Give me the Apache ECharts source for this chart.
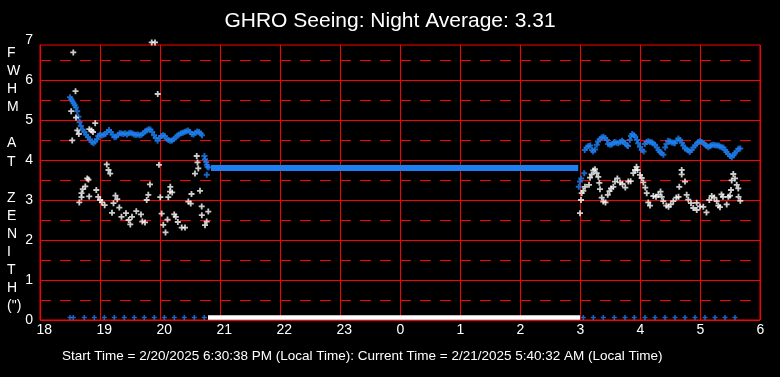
<!DOCTYPE html>
<html><head><meta charset="utf-8">
<script src="https://cdn.jsdelivr.net/npm/echarts@6/dist/echarts.min.js"></script>
<style>html,body{margin:0;padding:0;background:#000;}#c{width:780px;height:377px;}</style>
</head><body><div id="c"></div>
<script>
const titleText = 'GHRO Seeing: Night Average: 3.31';
const footerText = 'Start Time = 2/20/2025 6:30:38 PM (Local Time): Current Time = 2/21/2025 5:40:32 AM (Local Time)';
const yTitleLetters = ['F','W','H','M','','A','T','','Z','E','N','I','T','H','(")'];

// hours on a continuous scale (24 = midnight)
const avgTimes = [18.50,18.52,18.54,18.56,18.58,18.60,18.62,18.64,18.66,18.68,
  18.71,18.74,18.77,18.80,18.83,18.86,18.89,18.92,18.95,18.97,
  19.00,19.03,19.06,19.09,19.12,19.15,19.18,19.21,19.24,19.27,
  19.30,19.33,19.36,19.39,19.42,19.45,19.48,19.51,19.54,19.57,
  19.60,19.63,19.66,19.69,19.72,19.75,19.78,19.81,19.84,19.87,
  19.90,19.93,19.96,19.99,20.02,20.05,20.08,20.11,20.14,20.17,
  20.20,20.23,20.26,20.29,20.32,20.35,20.38,20.41,20.44,20.47,
  20.50,20.53,20.56,20.59,20.62,20.65,20.68,20.70,20.74,20.75,
  20.77,20.78,20.79,20.78,20.81,
  26.98,27.00,27.02,27.07,27.08,27.11,27.14,27.17,27.20,27.22,
  27.25,27.28,27.30,27.33,27.36,27.39,27.42,27.45,27.47,27.50,
  27.53,27.56,27.58,27.61,27.64,27.67,27.70,27.72,27.75,27.78,
  27.80,27.83,27.85,27.87,27.90,27.92,27.95,27.97,28.00,28.03,
  28.06,28.08,28.11,28.14,28.17,28.20,28.22,28.25,28.28,28.31,
  28.33,28.36,28.39,28.42,28.44,28.47,28.50,28.53,28.56,28.58,
  28.61,28.64,28.67,28.70,28.72,28.75,28.78,28.81,28.83,28.86,
  28.89,28.92,28.95,28.97,29.00,29.03,29.06,29.09,29.11,29.14,
  29.17,29.19,29.22,29.25,29.28,29.31,29.33,29.36,29.39,29.42,
  29.44,29.47,29.50,29.53,29.56,29.58,29.61,29.64,29.67];
const avgValues = [5.57,5.52,5.47,5.42,5.37,5.31,5.22,5.08,4.95,4.85,
  4.76,4.70,4.63,4.57,4.52,4.45,4.42,4.46,4.52,4.60,
  4.63,4.61,4.63,4.65,4.70,4.75,4.70,4.63,4.57,4.58,
  4.63,4.67,4.66,4.65,4.67,4.64,4.67,4.68,4.66,4.64,
  4.63,4.64,4.62,4.63,4.67,4.71,4.74,4.77,4.76,4.70,
  4.62,4.55,4.48,4.55,4.60,4.62,4.60,4.53,4.50,4.48,
  4.49,4.52,4.56,4.61,4.64,4.67,4.68,4.70,4.72,4.74,
  4.70,4.65,4.64,4.68,4.71,4.70,4.66,4.62,4.10,4.02,
  3.95,3.88,3.83,3.63,3.81,
  3.33,3.46,3.54,3.67,4.25,4.31,4.35,4.36,4.25,4.21,
  4.26,4.38,4.46,4.52,4.56,4.58,4.55,4.50,4.40,4.38,
  4.39,4.43,4.45,4.43,4.42,4.45,4.48,4.45,4.42,4.37,
  4.35,4.50,4.60,4.65,4.62,4.58,4.50,4.42,4.33,4.25,
  4.21,4.40,4.45,4.47,4.45,4.44,4.41,4.38,4.31,4.25,
  4.20,4.17,4.13,4.31,4.40,4.48,4.46,4.44,4.43,4.42,
  4.48,4.54,4.50,4.43,4.36,4.29,4.26,4.24,4.20,4.25,
  4.31,4.36,4.41,4.45,4.47,4.45,4.42,4.38,4.35,4.32,
  4.35,4.37,4.38,4.37,4.36,4.36,4.34,4.32,4.31,4.25,
  4.20,4.15,4.10,4.07,4.12,4.17,4.22,4.28,4.29];

// constant average while no measurements were taken
const flatAvgTimes = [20.85, 26.97];
const flatAvgValues = [3.8, 3.8];

const fwhmTimes = [18.555,18.592,18.520,18.600,18.920,18.622,18.647,18.822,18.858,18.883,
  18.537,19.113,19.142,19.170,19.862,19.917,19.962,18.787,18.808,18.755,
  18.713,18.692,18.692,18.655,18.820,18.938,18.970,19.003,19.033,19.078,
  19.200,19.258,19.288,19.225,19.322,19.358,19.433,19.478,19.505,19.533,
  19.605,19.683,19.705,19.750,19.778,19.805,19.833,19.983,20.005,20.028,
  20.055,20.092,20.125,20.138,20.172,20.167,20.203,20.237,20.263,20.297,
  20.362,20.417,20.472,20.512,20.525,20.583,20.612,20.625,20.638,20.667,
  20.695,20.697,20.750,20.778,20.805,
  27.000,27.017,27.028,27.055,27.083,27.150,27.167,27.195,27.222,27.250,
  27.278,27.305,27.322,27.333,27.362,27.388,27.425,27.462,27.492,27.517,
  27.555,27.583,27.622,27.667,27.708,27.755,27.805,27.845,27.888,27.917,
  27.942,27.958,28.000,28.028,28.055,28.088,28.112,28.138,28.167,28.222,
  28.267,28.305,28.342,28.362,28.388,28.438,28.475,28.512,28.555,28.605,
  28.642,28.655,28.695,28.695,28.750,28.778,28.805,28.850,28.888,28.945,
  28.945,29.000,29.055,29.108,29.155,29.195,29.238,29.278,29.305,29.333,
  29.358,29.383,29.445,29.472,29.500,29.517,29.528,29.555,29.583,29.612,
  29.638,29.642,29.672];
const fwhmValues = [6.69,5.72,5.22,5.06,4.92,4.74,4.65,4.77,4.74,4.70,
  4.49,3.89,3.75,3.66,6.94,6.94,5.65,3.54,3.51,3.34,
  3.27,3.17,3.07,2.94,3.09,3.25,3.08,3.00,2.94,2.87,
  2.68,3.11,3.02,2.92,2.81,2.58,2.67,2.50,2.39,2.58,
  2.72,2.64,2.46,2.44,3.00,3.13,3.39,3.88,3.07,2.66,
  2.38,2.19,2.51,3.07,3.33,3.21,3.19,2.64,2.58,2.45,
  2.31,2.31,2.96,2.91,3.15,3.66,4.10,3.94,3.79,3.23,
  2.84,2.62,2.37,2.46,2.71,
  2.67,3.00,3.17,3.23,3.33,3.38,3.56,3.64,3.74,3.77,
  3.67,3.58,3.43,3.27,3.06,2.96,2.94,3.13,3.22,3.29,
  3.33,3.46,3.54,3.44,3.40,3.31,3.46,3.47,3.67,3.75,
  3.83,3.75,3.63,3.55,3.44,3.31,3.17,2.94,2.86,3.10,
  3.08,3.13,3.21,3.08,2.97,2.86,2.83,2.89,2.97,3.06,
  3.08,3.33,3.75,3.64,3.46,3.13,3.01,2.92,2.80,2.93,
  2.75,2.84,2.83,2.69,3.00,3.10,3.06,2.97,2.86,2.82,
  3.14,3.08,2.89,3.08,3.11,3.25,3.49,3.65,3.54,3.38,
  3.29,3.08,2.98];

// zero readings
const zeroMarkTimes = [18.500,18.555,18.738,18.905,19.072,19.238,19.405,19.572,19.738,19.905,
  20.072,20.238,20.405,20.572,20.738,
  27.055,27.222,27.388,27.572,27.750,27.905,28.083,28.250,28.417,28.583,
  28.750,28.917,29.083,29.250,29.417,29.583];
const closedTimes = [20.80, 27.00];
const closedValues = [0, 0];

const RED = '#ff0000', BLUE = '#1e80f0', FONT = 'Liberation Sans, Arial, sans-serif';
const zip = (a, b) => a.map((t, i) => [t, b[i]]);
const PLUS_THICK = 'path://M2,0H4V2H6V4H4V6H2V4H0V2H2Z';
const PLUS_THIN = 'path://M2.1,0H3.9V2.1H6V3.9H3.9V6H2.1V3.9H0V2.1H2.1Z';

const chart = echarts.init(document.getElementById('c'), null, {renderer: 'canvas'});
chart.setOption({
  backgroundColor: '#000',
  animation: false,
  title: [
    {text: titleText, left: 'center', top: 6,
     textStyle: {color: '#fff', fontSize: 21, fontWeight: 'normal', fontFamily: FONT}},
    {text: footerText, left: 57, top: 344,
     textStyle: {color: '#fff', fontSize: 13.5, fontWeight: 'normal', fontFamily: FONT}}
  ],
  graphic: [{
    type: 'text', left: 7, top: 44,
    style: {text: yTitleLetters.join('\n'), fill: '#fff', font: '14px ' + FONT,
            lineHeight: 18.1, align: 'center', width: 16, x: 3}
  }],
  grid: [
    {left: 40, right: 20, top: 40, bottom: 57},
    {left: 40, right: 20, top: 45, bottom: 57, show: true, borderColor: RED, borderWidth: 1, backgroundColor: 'transparent'},
    {left: 36.5, right: 23.5, top: 40, bottom: 57},
    {left: 40, right: 20, top: 42.5, bottom: 59.5}
  ],
  xAxis: [
    {gridIndex: 0, type: 'value', min: 18, max: 30, show: false},
    {gridIndex: 1, type: 'value', min: 18, max: 30, interval: 1,
     axisLine: {show: false}, axisTick: {show: false}, axisLabel: {show: false},
     splitLine: {show: true, lineStyle: {color: RED, width: 1}}},
    {gridIndex: 2, type: 'value', min: 18, max: 30, interval: 1,
     axisLine: {show: false}, axisTick: {show: false}, splitLine: {show: false},
     axisLabel: {color: '#fff', fontSize: 14, fontFamily: FONT, margin: 3, align: 'left',
                 formatter: v => String(v % 24)}},
    {gridIndex: 3, type: 'value', min: 18, max: 30, show: false}
  ],
  yAxis: [
    {gridIndex: 0, type: 'value', min: 0, max: 7, interval: 1,
     axisLine: {show: false}, axisTick: {show: false},
     axisLabel: {color: '#fff', fontSize: 14, fontFamily: FONT, margin: 7},
     splitLine: {show: true, showMaxLine: false, lineStyle: {color: RED, width: 1}}},
    {gridIndex: 0, type: 'value', min: 0, max: 7, interval: 0.5, position: 'left',
     axisLine: {show: false}, axisTick: {show: false}, axisLabel: {show: false},
     splitLine: {show: true, showMaxLine: false, lineStyle: {color: RED, width: 1, type: [11, 9]}}},
    {gridIndex: 1, type: 'value', min: 0, max: 6.875, show: false, splitLine: {show: false}},
    {gridIndex: 2, type: 'value', min: 0, max: 7, show: false, splitLine: {show: false}},
    {gridIndex: 3, type: 'value', min: 0, max: 6.875, show: false, splitLine: {show: false}}
  ],
  series: [
    {type: 'line', xAxisIndex: 3, yAxisIndex: 4, data: zip(closedTimes, closedValues),
     symbol: 'none', clip: false, lineStyle: {color: '#fff', width: 4.5}, z: 3},
    {type: 'line', xAxisIndex: 1, yAxisIndex: 2, data: zip(flatAvgTimes, flatAvgValues),
     symbol: 'none', lineStyle: {color: BLUE, width: 6}, z: 3},
    {type: 'scatter', xAxisIndex: 1, yAxisIndex: 2, data: zip(avgTimes, avgValues),
     symbol: PLUS_THICK, symbolSize: 6, itemStyle: {color: BLUE}, clip: false, z: 4},
    {type: 'scatter', xAxisIndex: 1, yAxisIndex: 2, data: zip(fwhmTimes, fwhmValues),
     symbol: PLUS_THIN, symbolSize: 6, itemStyle: {color: '#fff'}, clip: false, z: 5},
    {type: 'scatter', xAxisIndex: 3, yAxisIndex: 4, data: zeroMarkTimes.map(t => [t, 0]),
     symbol: PLUS_THIN, symbolSize: 5, itemStyle: {color: BLUE}, clip: false, z: 6}
  ]
});
</script></body></html>
